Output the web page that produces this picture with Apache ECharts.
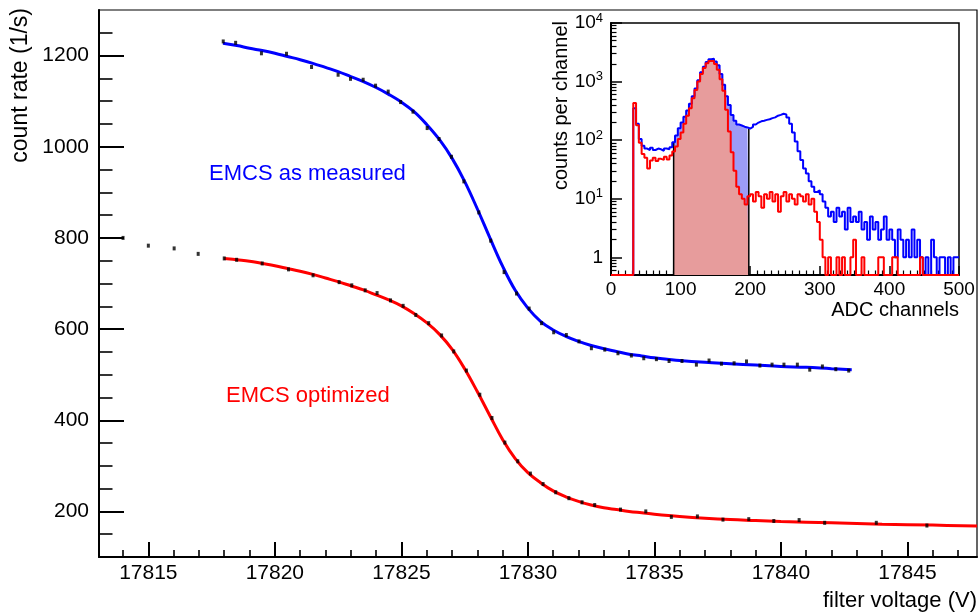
<!DOCTYPE html>
<html><head><meta charset="utf-8">
<script src="https://cdn.jsdelivr.net/npm/echarts@6/dist/echarts.min.js"></script>
<style>html,body{margin:0;padding:0;background:#fff}#c{width:979px;height:614px}</style>
</head><body><div id="c"></div>
<script>
const FONT = '"Liberation Sans", Arial, Helvetica, sans-serif';

// ---------- main plot: count rate vs filter voltage ----------
const extraX = [17814.0, 17815.0, 17816.02, 17816.97];
const extraY = [800, 783, 777, 765];

const measX = [17817.96,17818.45,17819.47,17820.46,17821.45,17822.5,17822.99,17823.49,17823.98,17824.48,17824.97,17825.46,17826.02,17826.49,17826.98,17827.47,17828.06,17828.53,17829.06,17829.55,17830.05,17830.54,17831.02,17831.52,17832.02,17832.51,17833.04,17833.56,17834.09,17834.58,17835.08,17835.58,17836.09,17836.66,17837.16,17837.65,17838.15,17838.64,17839.17,17839.65,17840.12,17840.65,17841.14,17841.64,17842.17,17842.68];
const measY = [1231,1228,1205,1204,1175,1158,1149,1147,1134,1121,1098,1077,1041,1017,978,924,856,794,725,678,645,613,593,587,573,558,555,547,542,536,534,530,530,522,531,524,525,529,520,522,522,522,511,518,512,509];

const measFitX = [17817.95,17818.5,17819,17819.5,17820,17820.5,17821,17821.5,17822,17822.5,17823,17823.5,17824,17824.5,17825,17825.5,17826,17826.5,17827,17827.5,17828,17828.5,17829,17829.5,17830,17830.5,17831,17831.5,17832,17832.5,17833,17833.5,17834,17834.5,17835,17835.5,17836,17837,17838,17839,17840,17841,17842,17842.8];
const measFitY = [1227,1222,1216,1211,1205,1198,1191,1183,1174,1165,1154,1143,1130,1115,1098,1077,1049,1016,975,924,864,800,738,685,646,617,598,584,573,564,557,551,545,541,537,534,531,527,524,521,518,516,513,511];

const optX = [17818.0,17818.49,17819.5,17820.54,17821.51,17822.54,17823.04,17823.57,17824.04,17824.57,17825.07,17825.57,17826.08,17826.59,17827.07,17827.57,17828.1,17828.58,17829.09,17829.6,17830.1,17830.6,17831.1,17831.62,17832.14,17832.64,17833.66,17834.66,17835.67,17836.7,17837.71,17838.73,17839.72,17840.72,17841.73,17843.77,17845.77];
const optY = [755,752,744,731,718,703,696,685,679,663,651,631,613,586,551,509,456,405,351,310,283,260,242,229,220,214,204,200,188,189,182,183,179,181,175,175,169];

const optFitX = [17818,17818.5,17819,17819.5,17820,17820.5,17821,17821.5,17822,17822.5,17823,17823.5,17824,17824.5,17825,17825.5,17826,17826.5,17827,17827.5,17828,17828.5,17829,17829.5,17830,17830.5,17831,17831.5,17832,17832.5,17833,17833.5,17834,17834.5,17835,17836,17837,17838,17839,17840,17842,17844,17846,17847.75];
const optFitY = [755,752,749,744,739,733,727,720,712,704,695,686,675,664,651,634,614,589,556,513,463,410,358,316,285,263,245,232,222,214,208,204,200,197,194,189,185,182,180,178,175,172,170,168];

const xMajorTicks = [17815,17820,17825,17830,17835,17840,17845];
const xMinorTicks = [17814,17816,17817,17818,17819,17821,17822,17823,17824,17826,17827,17828,17829,17831,17832,17833,17834,17836,17837,17838,17839,17841,17842,17843,17844,17846,17847];
const yMajorTicks = [200,400,600,800,1000,1200];
const yMinorTicks = [150,250,300,350,450,500,550,650,700,750,850,900,950,1050,1100,1150,1250];

// ---------- inset: ADC spectra (4-channel bins, counts per channel) ----------
const adcBinWidth = 4;
const adcMeasured = [
  0,0,0,0,0,0,0,0,350,190,105,80,72,68,74,68,72,70,66,72,
  70,76,92,120,160,200,250,320,420,560,760,1050,1450,1800,2150,2400,2450,2200,1900,1350,
  880,560,400,270,215,185,178,170,165,158,168,185,200,210,215,222,228,238,245,262,
  270,282,275,245,190,135,95,65,46,33,27,20,16,13,14,12,9,7,5,6,
  4,7,5,6,3,7,4,5,4,6,3,4,2,5,3,4,2,3,5,2,
  3,2,1,3,2,1,2,1,3,1,2,1,0,1,0,2,1,0,1,1,
  0,1,0,1,1
];
const adcOptimized = [
  0,0,0,0,0,0,0,0,430,180,90,58,50,33,45,50,44,48,46,52,
  47,55,64,78,105,135,190,260,350,520,720,1000,1350,1700,2050,2250,2250,2000,1600,1100,
  700,330,140,62,30,16,12,10,8,11,12,9,13,11,7,12,10,13,9,12,
  6,11,13,9,12,10,8,12,11,9,12,8,10,6,4,2,1,0,1,0,
  0,1,0,1,0,0,1,2,0,0,1,0,0,0,0,0,1,1,0,0,
  0,1,1,0,0,0,0,0,0,0,0,1,0,0,0,0,0,0,0,0,
  0,0,0,0,0
];
const adcWindow = [90, 198];
const insetXTicks = [0,100,200,300,400,500];
const insetYTicks = [1,10,100,1000,10000];
const insetYMinor = [0.6,0.7,0.8,0.9,2,3,4,5,6,7,8,9,20,30,40,50,60,70,80,90,200,300,400,500,600,700,800,900,2000,3000,4000,5000,6000,7000,8000,9000];

const Y_FLOOR = 0.5;
const zip = (xs, ys) => xs.map((x, i) => [x, ys[i]]);
const binVal = (vals, i) => (vals[i] > 0 ? vals[i] : Y_FLOOR);
function histSteps(vals) {
  const d = vals.map((v, i) => [i * adcBinWidth, binVal(vals, i)]);
  d.push([vals.length * adcBinWidth, binVal(vals, vals.length - 1)]);
  return d;
}
function windowSteps(vals, lo, hi) {
  const i0 = Math.floor(lo / adcBinWidth), i1 = Math.floor((hi - 1e-9) / adcBinWidth);
  const d = [[lo, binVal(vals, i0)]];
  for (let i = i0 + 1; i <= i1; i++) d.push([i * adcBinWidth, binVal(vals, i)]);
  d.push([hi, binVal(vals, i1)]);
  return d;
}
const valueAt = (vals, x) => binVal(vals, Math.min(vals.length - 1, Math.floor(x / adcBinWidth)));

const chart = echarts.init(document.getElementById('c'), null, {renderer: 'canvas'});
const black = '#000';
const plain = v => String(v);
const tickLabel = {color: black, fontFamily: FONT, fontSize: 21, formatter: plain};

const option = {
  animation: false,
  backgroundColor: '#fff',
  grid: [
    {left: 99, top: 10, width: 878, height: 547, show: true, borderColor: black, borderWidth: 1.2, backgroundColor: 'transparent', containLabel: false},
    {left: 611, top: 23, width: 348, height: 252, show: true, borderColor: black, borderWidth: 1.5, backgroundColor: '#fff', containLabel: false}
  ],
  xAxis: [
    {gridIndex: 0, type: 'value', position: 'bottom', min: 17813.05, max: 17847.75,
     axisLine: {show: true, onZero: false, lineStyle: {color: black, width: 2}},
     axisTick: {show: true, inside: true, length: 15, customValues: xMajorTicks, lineStyle: {color: black, width: 2}},
     axisLabel: Object.assign({customValues: xMajorTicks, margin: 6}, tickLabel),
     splitLine: {show: false}},
    {gridIndex: 0, type: 'value', position: 'bottom', offset: 0, min: 17813.05, max: 17847.75,
     axisLine: {show: false},
     axisTick: {show: true, inside: true, length: 7, customValues: xMinorTicks, lineStyle: {color: black, width: 1.6}},
     axisLabel: {show: false}, splitLine: {show: false}},
    {gridIndex: 1, type: 'value', position: 'bottom', min: 0, max: 500, interval: 100,
     axisLine: {show: true, onZero: false, lineStyle: {color: black, width: 2}},
     axisTick: {show: true, inside: true, length: 9, lineStyle: {color: black, width: 1.5}},
     minorTick: {show: true, splitNumber: 10, length: 4.5, lineStyle: {color: black, width: 1.2}},
     axisLabel: Object.assign({margin: 5}, tickLabel, {fontSize: 19}),
     splitLine: {show: false}}
  ],
  yAxis: [
    {gridIndex: 0, type: 'value', position: 'left', min: 100, max: 1300,
     axisLine: {show: true, onZero: false, lineStyle: {color: black, width: 2}},
     axisTick: {show: true, inside: true, length: 25, customValues: yMajorTicks, lineStyle: {color: black, width: 2}},
     axisLabel: Object.assign({customValues: yMajorTicks, margin: 10}, tickLabel),
     splitLine: {show: false}},
    {gridIndex: 0, type: 'value', position: 'left', offset: 0, min: 100, max: 1300,
     axisLine: {show: false},
     axisTick: {show: true, inside: true, length: 13.5, customValues: yMinorTicks, lineStyle: {color: black, width: 1.6}},
     axisLabel: {show: false}, splitLine: {show: false}},
    {gridIndex: 1, type: 'log', logBase: 10, position: 'left', min: 0.5, max: 10000,
     axisLine: {show: true, onZero: false, lineStyle: {color: black, width: 2}},
     axisTick: {show: true, inside: true, length: 11, customValues: insetYTicks, lineStyle: {color: black, width: 1.5}},
     axisLabel: {customValues: insetYTicks, margin: 8, color: black, fontFamily: FONT, fontSize: 19,
       formatter: v => {
         const e = Math.round(Math.log10(v));
         return e === 0 ? '1' : '10{sup|' + e + '}';
       },
       rich: {sup: {fontSize: 13, fontFamily: FONT, color: black, verticalAlign: 'top', padding: [0, 0, 10, 0]}}},
     splitLine: {show: false}},
    {gridIndex: 1, type: 'log', logBase: 10, position: 'left', offset: 0, min: 0.5, max: 10000,
     axisLine: {show: false},
     axisTick: {show: true, inside: true, length: 5.5, customValues: insetYMinor, lineStyle: {color: black, width: 1.2}},
     axisLabel: {show: false}, splitLine: {show: false}}
  ],
  series: [
    // main plot
    {type: 'line', name: 'measured fit', xAxisIndex: 0, yAxisIndex: 0, data: zip(measFitX, measFitY),
     smooth: 0.4, symbol: 'none', lineStyle: {color: '#0000ff', width: 3}, z: 3},
    {type: 'line', name: 'optimized fit', xAxisIndex: 0, yAxisIndex: 0, data: zip(optFitX, optFitY),
     smooth: 0.4, symbol: 'none', lineStyle: {color: '#ff0000', width: 3}, z: 3},
    {type: 'scatter', xAxisIndex: 0, yAxisIndex: 0, data: zip(extraX, extraY), symbol: 'rect', symbolSize: [3, 4],
     itemStyle: {color: black}, z: 5},
    {type: 'scatter', xAxisIndex: 0, yAxisIndex: 0, data: zip(measX, measY), symbol: 'rect', symbolSize: [3, 4],
     itemStyle: {color: black}, z: 5},
    {type: 'scatter', xAxisIndex: 0, yAxisIndex: 0, data: zip(optX, optY), symbol: 'rect', symbolSize: [3, 4],
     itemStyle: {color: black}, z: 5},
    // inset
    {type: 'line', xAxisIndex: 2, yAxisIndex: 2, data: windowSteps(adcMeasured, adcWindow[0], adcWindow[1]),
     step: 'end', symbol: 'none', lineStyle: {width: 0, opacity: 0}, areaStyle: {color: '#9c9cf6', opacity: 1, origin: 'start'}, z: 2},
    {type: 'line', xAxisIndex: 2, yAxisIndex: 2, data: windowSteps(adcOptimized, adcWindow[0], adcWindow[1]),
     step: 'end', symbol: 'none', lineStyle: {width: 0, opacity: 0}, areaStyle: {color: '#e79c9c', opacity: 1, origin: 'start'}, z: 2},
    {type: 'line', xAxisIndex: 2, yAxisIndex: 2, data: [[adcWindow[0], Y_FLOOR], [adcWindow[0], valueAt(adcMeasured, adcWindow[0])]],
     symbol: 'none', lineStyle: {color: black, width: 1.5}, z: 3},
    {type: 'line', xAxisIndex: 2, yAxisIndex: 2, data: [[adcWindow[1], Y_FLOOR], [adcWindow[1], valueAt(adcMeasured, adcWindow[1] - 1)]],
     symbol: 'none', lineStyle: {color: black, width: 1.5}, z: 3},
    {type: 'line', xAxisIndex: 2, yAxisIndex: 2, data: histSteps(adcMeasured), step: 'end', symbol: 'none',
     lineStyle: {color: '#0000ff', width: 2}, clip: true, z: 4},
    {type: 'line', xAxisIndex: 2, yAxisIndex: 2, data: histSteps(adcOptimized), step: 'end', symbol: 'none',
     lineStyle: {color: '#ff0000', width: 2}, clip: true, z: 4}
  ],
  graphic: [
    {type: 'text', x: 21, y: 8, rotation: Math.PI / 2, style: {text: 'count rate (1/s)', font: '23px ' + FONT, fill: black, align: 'right', verticalAlign: 'middle'}},
    {type: 'text', x: 977, y: 601, style: {text: 'filter voltage (V)', font: '22px ' + FONT, fill: black, align: 'right', verticalAlign: 'middle'}},
    {type: 'text', x: 209, y: 174, style: {text: 'EMCS as measured', font: '22px ' + FONT, fill: '#0000ff', align: 'left', verticalAlign: 'middle'}},
    {type: 'text', x: 226, y: 396, style: {text: 'EMCS optimized', font: '22px ' + FONT, fill: '#ff0000', align: 'left', verticalAlign: 'middle'}},
    {type: 'text', x: 561, y: 21, rotation: Math.PI / 2, style: {text: 'counts per channel', font: '20px ' + FONT, fill: black, align: 'right', verticalAlign: 'middle'}},
    {type: 'text', x: 959, y: 310, style: {text: 'ADC channels', font: '20px ' + FONT, fill: black, align: 'right', verticalAlign: 'middle'}}
  ]
};
chart.setOption(option);
</script>
</body></html>
